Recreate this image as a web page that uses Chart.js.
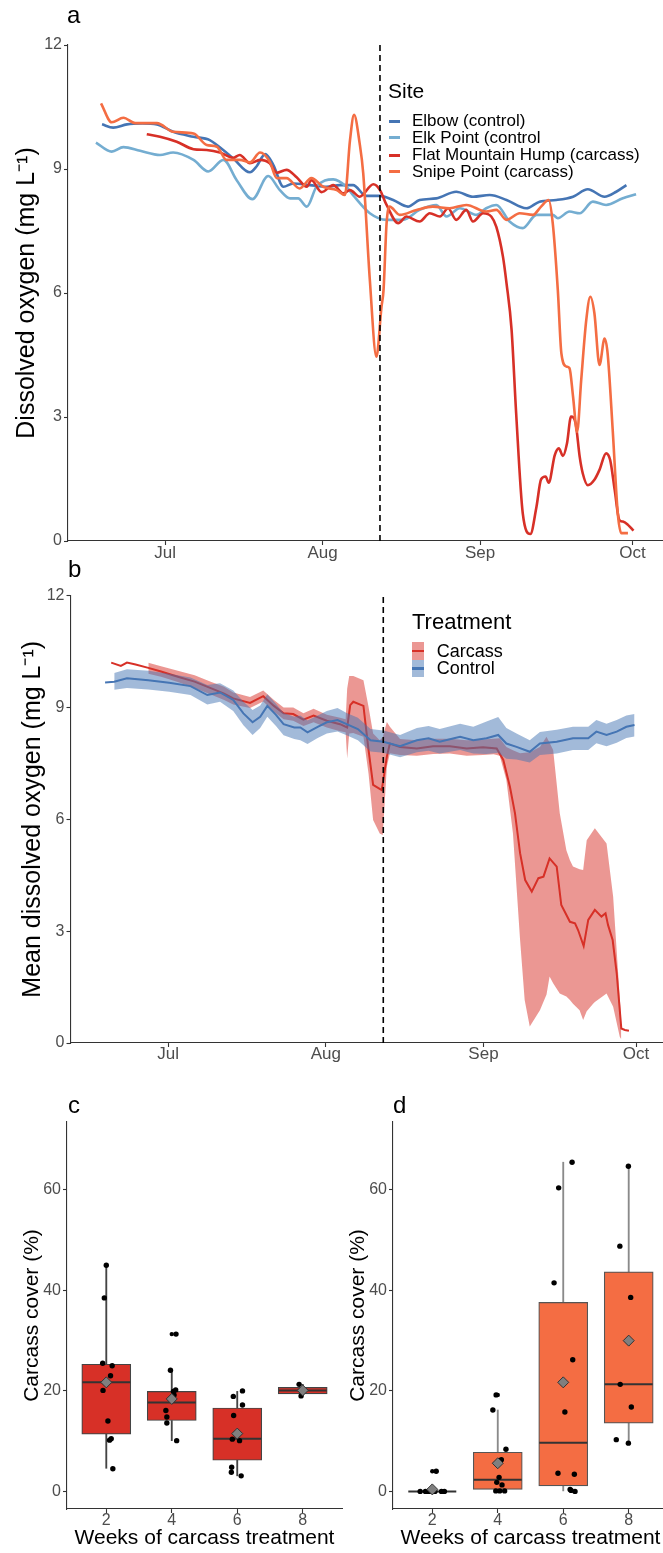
<!DOCTYPE html>
<html><head><meta charset="utf-8">
<script src="https://cdn.jsdelivr.net/npm/chart.js@4.4.1/dist/chart.umd.min.js"></script>
<style>
html,body{margin:0;padding:0;background:#fff;overflow:hidden;width:663px;height:1553px;}
body{position:relative;font-family:'Liberation Sans',Arial,Helvetica,sans-serif;}
.cv{position:absolute;}
.t{position:absolute;white-space:nowrap;color:#000;}
.k{position:absolute;}
</style></head><body>
<canvas id="ca" class="cv" width="663" height="570" style="left:0;top:0"></canvas>
<canvas id="cb" class="cv" width="663" height="510" style="left:0;top:560px"></canvas>
<canvas id="cc" class="cv" width="345" height="473" style="left:0;top:1080px"></canvas>
<canvas id="cd" class="cv" width="345" height="473" style="left:326px;top:1080px"></canvas>

<div class="t" style="left:67px;top:3px;font-size:24px;line-height:24px">a</div>
<div class="t" style="left:68px;top:557px;font-size:24px;line-height:24px">b</div>
<div class="t" style="left:68px;top:1093px;font-size:24px;line-height:24px">c</div>
<div class="t" style="left:393px;top:1093px;font-size:24px;line-height:24px">d</div>

<div id="legA"></div>
<div id="legB"></div>

<script>
// ---------- shared axis data ----------
const tickDays = [0, 31, 62, 92];
const tickMonths = ['Jul', 'Aug', 'Sep', 'Oct'];
const doTicks = [0, 3, 6, 9, 12];
const carcassStartDay = [42.3];

// ---------- panel a : dissolved oxygen by site (days from 1 July) ----------
const siteNames = ['Elbow (control)', 'Elk Point (control', 'Flat Mountain Hump (carcass)', 'Snipe Point (carcass)'];
const siteColors = ['#4575B4', '#74ADD1', '#D73027', '#F46D43'];

const elbowDays = [-12.4,-10.2,-7.5,-4.5,-1.6,1.6,5.6,8.8,10.2,13.4,16.7,18.0,19.7,21.3,23.3,25.2,28.5,31.8,34.4,37.0,39.6,42.3,44.9,47.8,50.1,53.4,57.3,60.6,63.9,67.2,71.1,73.7,77.0,80.3,83.2,86.5,88.8,90.8];
const elbowDO = [10.08,10.00,10.08,10.10,10.08,9.90,9.78,9.70,9.58,9.26,8.92,9.06,9.36,9.10,8.57,8.65,8.61,8.57,8.61,8.61,8.35,8.35,8.25,8.09,8.25,8.29,8.45,8.33,8.37,8.25,8.05,8.21,8.25,8.33,8.51,8.33,8.45,8.61];

const elkDays = [-13.6,-10.5,-8.2,-4.9,-1.0,1.6,5.6,8.5,11.5,14.1,17.2,20.3,22.6,24.6,26.2,27.9,29.8,33.1,35.7,37.0,40.3,43.6,46.8,50.1,53.4,55.4,58.0,61.3,63.2,65.2,67.8,70.4,73.1,76.3,77.3,79.6,81.6,84.2,86.8,90.1,92.7];
const elkDO = [9.64,9.42,9.53,9.44,9.34,9.40,9.22,8.94,9.22,8.73,8.27,8.83,8.49,8.29,8.29,8.09,8.57,8.75,8.57,8.37,7.93,7.77,7.77,8.01,8.13,7.85,8.05,7.89,8.05,8.13,7.73,7.57,7.89,7.89,7.81,7.97,7.93,8.21,8.13,8.29,8.39];

const fmhDays = [-3.6,-1.0,2.3,5.6,8.2,10.8,13.4,14.7,16.7,18.7,20.6,22.0,23.9,25.9,27.9,28.8,30.8,33.1,35.1,36.4,38.3,41.0,42.3,43.6,45.9,47.5,50.1,52.1,54.1,55.7,57.3,59.3,60.6,62.6,64.2,65.2,66.5,67.2,68.2,69.1,70.4,71.9,73.1,74.0,74.9,75.5,76.7,77.5,78.3,79.1,79.9,80.8,81.6,82.2,83.2,84.5,85.5,86.8,87.6,88.5,89.4,90.1,91.1,92.2];
const fmhDO = [9.84,9.78,9.66,9.48,9.46,9.40,9.27,9.34,9.14,9.22,9.14,8.91,8.98,8.80,8.57,8.73,8.44,8.61,8.41,8.49,8.33,8.63,8.49,8.13,7.69,7.85,7.73,7.93,7.85,8.05,7.77,8.01,7.73,7.93,7.85,7.60,6.88,6.24,5.11,3.09,0.67,0.17,0.83,1.49,1.56,1.41,2.08,2.24,2.06,2.36,3.01,2.85,2.04,1.64,1.35,1.48,1.72,2.12,1.96,1.23,0.51,0.47,0.39,0.25];

const snipeDays = [-12.6,-10.5,-8.2,-5.9,-1.6,1.6,5.6,8.2,10.2,12.1,14.7,16.7,18.7,20.6,22.0,23.9,26.5,28.8,31.1,33.8,35.4,36.4,37.2,38.3,39.0,40.3,41.6,42.6,43.0,43.6,44.2,46.2,49.5,52.7,56.0,59.3,63.2,65.2,67.2,69.8,72.4,74.0,75.5,76.3,77.3,78.0,79.0,79.6,80.3,81.1,81.9,82.9,83.7,84.5,85.5,86.5,87.1,88.1,89.1,89.8,91.1];
const snipeDO = [10.59,10.13,10.24,10.11,10.11,9.90,9.86,9.58,9.54,9.22,9.22,9.16,9.40,9.18,8.78,8.78,8.53,8.78,8.57,8.49,8.37,9.70,10.31,9.62,8.90,6.32,4.46,5.67,6.07,7.69,8.09,7.89,8.01,8.09,8.05,8.13,7.97,8.01,7.77,7.93,7.89,8.09,8.25,7.69,6.07,4.54,4.22,4.18,3.49,2.64,3.89,5.35,5.91,5.51,4.26,4.90,4.54,2.69,0.67,0.19,0.19];

// ---------- panel b : treatment means with ribbons ----------
const treatNames = ['Carcass', 'Control'];
const treatColors = ['#D73027', '#4575B4'];
const treatFills = ['rgba(215,48,39,0.5)', 'rgba(69,117,180,0.5)'];

const controlDays = [-12.4,-10.6,-8.1,-3.9,0.2,4.4,7.7,10.2,12.8,14.8,16.6,18.1,19.5,21.2,22.7,24.8,26.0,27.4,29.4,31.2,33.3,35.1,37.3,39.8,42.3,45.6,48.9,51.2,53.4,57.4,60.0,62.6,64.9,66.5,68.5,71.1,73.1,76.4,79.6,82.6,84.2,86.2,88.2,90.1,91.7];
const controlMean = [9.67,9.69,9.78,9.73,9.66,9.57,9.33,9.40,9.20,8.84,8.60,8.75,9.04,8.80,8.55,8.46,8.46,8.33,8.48,8.60,8.66,8.55,8.42,8.12,8.08,7.96,8.12,8.17,8.08,8.21,8.12,8.17,8.26,8.03,7.94,7.81,8.03,8.08,8.17,8.17,8.35,8.26,8.35,8.48,8.53];
const controlBandDays = [-10.6,-8.1,-3.9,0.2,4.4,7.7,10.2,12.8,14.8,16.6,18.1,19.5,21.2,22.7,24.8,26.0,27.4,29.4,31.2,33.3,35.1,37.3,39.8,42.3,45.6,48.9,51.2,53.4,57.4,60.0,62.6,64.9,66.5,68.5,71.1,73.1,76.4,79.6,82.6,84.2,86.2,88.2,90.1,91.7];
const controlLower = [9.47,9.52,9.48,9.42,9.33,9.08,9.15,8.90,8.52,8.26,8.45,8.75,8.50,8.25,8.15,8.12,8.02,8.18,8.30,8.35,8.25,8.12,7.82,7.78,7.66,7.80,7.84,7.76,7.86,7.76,7.75,7.78,7.62,7.60,7.52,7.72,7.76,7.86,7.86,8.04,7.96,8.05,8.18,8.22];
const controlUpper = [9.92,10.02,9.98,9.90,9.80,9.60,9.65,9.45,9.15,8.93,9.05,9.35,9.10,8.85,8.75,8.78,8.65,8.78,8.90,8.98,8.85,8.72,8.42,8.38,8.26,8.45,8.50,8.42,8.56,8.48,8.62,8.74,8.45,8.30,8.12,8.34,8.40,8.48,8.48,8.66,8.56,8.66,8.78,8.82];

const carcassDays = [-11.2,-9.3,-8.1,-6.4,-3.9,-1.4,1.9,5.2,8.5,11.0,12.8,16.1,18.7,20.8,22.7,24.6,26.6,28.6,31.2,33.8,35.2,35.8,36.4,38.4,39.4,40.3,42.0,43.0,43.6,45.6,48.9,52.1,55.4,58.7,61.9,64.6,65.9,67.2,68.2,69.2,70.2,71.5,72.8,73.8,75.0,76.4,77.3,79.0,80.0,80.6,81.7,82.6,83.9,85.2,86.0,86.5,87.4,88.2,89.1,89.8,90.6];
const carcassMean = [10.20,10.11,10.20,10.15,10.06,9.96,9.82,9.69,9.51,9.37,9.24,9.12,9.30,9.04,8.84,8.82,8.67,8.78,8.64,8.55,8.46,9.06,9.15,9.04,7.86,6.92,6.78,7.68,8.03,7.94,7.90,7.96,7.96,7.90,7.93,7.90,7.59,6.87,6.16,5.09,4.37,4.06,4.42,4.46,4.95,4.73,3.70,3.25,3.21,3.03,2.60,3.30,3.57,3.39,3.48,3.16,2.76,1.87,0.39,0.35,0.33];
const carcassBandDays = [-3.9,-1.4,1.9,5.2,8.5,11.0,12.8,16.1,18.7,20.8,22.7,24.6,26.6,28.6,31.2,33.8,34.9,35.2,35.6,36.4,38.4,39.4,40.3,41.6,42.2,43.0,43.6,45.6,48.9,52.1,55.4,58.7,61.9,64.0,65.2,66.5,67.8,69.2,70.1,71.1,73.1,74.4,75.0,75.7,77.0,78.3,79.0,79.6,80.9,81.6,82.3,83.6,83.9,86.2,87.5,88.8,89.1];
const carcassLower = [9.90,9.82,9.68,9.52,9.34,9.20,9.08,8.98,9.16,8.88,8.68,8.64,8.50,8.60,8.46,8.36,8.33,7.63,8.30,8.31,8.21,7.23,5.98,5.62,5.58,7.41,7.77,7.72,7.70,7.75,7.76,7.70,7.72,7.74,7.70,7.05,5.62,2.76,1.15,0.44,0.88,1.30,1.78,1.60,1.33,1.25,1.15,1.05,0.88,0.62,0.85,1.06,1.10,1.33,0.97,0.17,0.10];
const carcassUpper = [10.20,10.10,9.98,9.86,9.68,9.55,9.40,9.28,9.45,9.20,9.00,9.00,8.84,8.96,8.80,8.72,8.68,9.50,9.84,9.84,9.73,9.02,8.30,8.12,8.20,8.61,8.48,8.15,8.12,8.16,8.16,8.12,8.14,8.16,8.17,7.94,7.85,7.77,7.78,7.80,7.94,8.21,8.05,7.86,6.16,5.17,4.90,4.73,4.66,4.64,5.44,5.70,5.76,5.35,3.92,1.20,0.60];

// ---------- panels c & d : carcass cover boxplots ----------
const weeks = [2, 4, 6, 8];
const weekLabels = ['2', '4', '6', '8'];
const coverTicks = [0, 20, 40, 60];

// panel c
const cLow = [4.6, 10.1, 3.1, 19.0];
const cQ1 = [11.4, 14.1, 6.2, 19.4];
const cMedian = [21.7, 17.7, 10.5, 20.1];
const cQ3 = [25.3, 19.9, 16.6, 20.7];
const cHigh = [44.9, 24.1, 19.9, 21.3];
const cMean = [21.7, 18.4, 11.5, 20.1];
const cPointWeek = [2.00,1.94,1.89,2.18,2.13,1.90,2.05,2.15,2.10,2.20, 4.13,3.96,4.12,4.05,4.07,3.82,3.85,3.85,4.15, 6.16,5.88,6.16,5.89,5.85,6.07,5.83,5.82,6.12, 7.89,7.95,8.02];
const cPointCover = [45.0,38.5,25.5,25.0,23.0,20.1,14.0,10.5,10.2,4.5, 31.3,24.1,20.2,19.9,19.2,16.1,14.8,13.6,10.1, 20.0,18.9,17.2,15.1,10.4,10.1,4.8,3.8,3.1, 21.3,19.0,20.1];
const cOutlierWeek = [4];
const cOutlierCover = [31.3];

// panel d
const dLow = [0, 0, 0, 9.6];
const dQ1 = [0, 0.4, 1.1, 13.6];
const dMedian = [0, 2.3, 9.7, 21.3];
const dQ3 = [0, 7.8, 37.6, 43.7];
const dHigh = [0, 16.2, 65.5, 64.7];
const dMean = [0.4, 5.6, 21.7, 30.0];
const dPointWeek = [1.63,1.79,2.12,2.28,2.37,1.86,1.92,1.97,2.03,2.08, 3.95,3.85,4.25,4.11,4.04,3.97,4.13,3.94,4.06,4.21, 6.27,5.86,5.72,6.29,6.05,5.84,6.34,6.21,6.36,6.24, 7.99,7.73,8.06,7.74,8.08,7.62,7.99];
const dPointCover = [0,0,4.0,0,0,0,0,0,0,0, 19.2,16.2,8.4,6.3,2.8,1.8,1.3,0.1,0.1,0.1, 65.5,60.4,41.5,26.2,15.8,3.6,3.4,0.4,0.0,0.2, 64.7,48.8,38.6,21.3,16.8,10.3,9.6];
const dOutlierWeek = [2, 4];
const dOutlierCover = [4.0, 19.2];

// ---------- helpers ----------
const FONT = "'Liberation Sans', Arial, Helvetica, sans-serif";
Chart.defaults.font.family = FONT;
const TICK_COL = '#4D4D4D', AXIS_COL = '#333333';

function pts(xs, ys) { return xs.map((x, i) => ({ x: x, y: ys[i] })); }

function axisCommon() {
  return {
    grid: { display: true, offset: false, drawOnChartArea: false, drawTicks: true, tickLength: 4, color: AXIS_COL, tickColor: AXIS_COL, tickWidth: 1.1 },
    border: { display: true, color: AXIS_COL, width: 1.1 }
  };
}
function xScale(min, max, h, tv, tl, pad, size, title) {
  const s = Object.assign(axisCommon(), {
    type: 'linear', min: min, max: max, offset: false,
    afterFit: sc => { sc.height = h; },
    afterBuildTicks: sc => { sc.ticks = tv.map(v => ({ value: v })); },
    ticks: { autoSkip: false, maxRotation: 0, color: TICK_COL, font: { size: size, lineHeight: 1 }, padding: pad,
             callback: (v, i) => tl[i] }
  });
  if (title) s.title = title;
  return s;
}
function yScale(min, max, w, tv, title, size, tpad) {
  return Object.assign(axisCommon(), {
    type: 'linear', min: min, max: max,
    afterFit: sc => { sc.width = w; },
    afterBuildTicks: sc => { sc.ticks = tv.map(v => ({ value: v })); },
    ticks: { color: TICK_COL, font: { size: 16 }, padding: 2, callback: v => String(v) },
    title: { display: true, text: title, color: '#000', font: { size: size, lineHeight: 1.2 }, padding: { top: tpad, bottom: 0 } }
  });
}
function vline(day, order) {
  return { data: [{ x: day, y: 0 }, { x: day, y: 12 }], showLine: true, borderColor: '#000', borderWidth: 1.6,
           borderDash: [6, 4], pointRadius: 0, fill: false, order: order };
}
const baseOpts = { responsive: false, animation: false, events: [],
  plugins: { legend: { display: false }, tooltip: { enabled: false }, title: { display: false } } };

// ---------- panel a ----------
function siteLine(xs, ys, col, order) {
  return { data: pts(xs, ys), showLine: true, borderColor: col, borderWidth: 2.6, pointRadius: 0,
           cubicInterpolationMode: 'monotone', fill: false, order: order };
}
new Chart(document.getElementById('ca'), {
  type: 'scatter',
  data: { datasets: [
    vline(carcassStartDay[0], 0),
    siteLine(snipeDays, snipeDO, siteColors[3], 1),
    siteLine(fmhDays, fmhDO, siteColors[2], 2),
    siteLine(elkDays, elkDO, siteColors[1], 3),
    siteLine(elbowDays, elbowDO, siteColors[0], 4)
  ]},
  options: Object.assign({}, baseOpts, {
    layout: { autoPadding: false, padding: { top: 45, right: 0, left: 0, bottom: 0 } },
    scales: {
      x: xScale(-19.1, 98, 29, tickDays, tickMonths, 0, 17),
      y: yScale(0, 12, 68, doTicks, 'Dissolved oxygen (mg L\u207B\u00B9)', 25, 12)
    }
  })
});

// ---------- panel b ----------
function meanLine(xs, ys, col, order) {
  return { data: pts(xs, ys), showLine: true, borderColor: col, borderWidth: 2, pointRadius: 0, tension: 0, fill: false, order: order };
}
function bandEdge(xs, ys, fillCol, order) {
  return { data: pts(xs, ys), showLine: true, borderColor: 'rgba(0,0,0,0)', borderWidth: 0, pointRadius: 0, tension: 0,
           backgroundColor: fillCol, fill: fillCol ? '+1' : false, order: order };
}
new Chart(document.getElementById('cb'), {
  type: 'scatter',
  data: { datasets: [
    vline(carcassStartDay[0], 0),
    meanLine(controlDays, controlMean, treatColors[1], 1),
    bandEdge(controlBandDays, controlUpper, treatFills[1], 2),
    bandEdge(controlBandDays, controlLower, null, 3),
    meanLine(carcassDays, carcassMean, treatColors[0], 4),
    bandEdge(carcassBandDays, carcassUpper, treatFills[0], 5),
    bandEdge(carcassBandDays, carcassLower, null, 6)
  ]},
  options: Object.assign({}, baseOpts, {
    layout: { autoPadding: false, padding: { top: 35.5, right: 0, left: 0, bottom: 0 } },
    scales: {
      x: xScale(-19.2, 97.3, 27, tickDays, tickMonths, -1, 17),
      y: yScale(0, 12, 70.5, doTicks, 'Mean dissolved oxygen (mg L\u207B\u00B9)', 25, 18)
    }
  })
});

// ---------- panels c & d ----------
function boxChart(id, st) {
  const datasets = [
    { type: 'scatter', data: pts(weeks, st.mean), pointStyle: 'rectRot', pointRadius: 5.5,
      pointBackgroundColor: '#7F7F7F', pointBorderColor: '#333333', pointBorderWidth: 1, order: 0 },
    { type: 'scatter', data: pts(st.pw, st.pc), pointStyle: 'circle', pointRadius: 2.7,
      pointBackgroundColor: '#000', pointBorderColor: '#000', pointBorderWidth: 0, order: 1 },
    { type: 'scatter', data: pts(st.ow, st.oc), pointStyle: 'circle', pointRadius: 2.2,
      pointBackgroundColor: '#000', pointBorderColor: '#000', pointBorderWidth: 0, order: 2 },
    { type: 'scatter', data: pts(weeks, st.med), pointStyle: 'line', pointRadius: 24,
      pointBorderColor: '#333333', pointBorderWidth: 2, order: 3 },
    { type: 'bar', data: weeks.map((w, i) => ({ x: w, y: [st.q1[i], st.q3[i]] })), backgroundColor: st.fill,
      borderColor: st.border, borderWidth: 1.2, borderSkipped: false, barThickness: 49, grouped: false, order: 4 },
    { type: 'bar', data: weeks.map((w, i) => ({ x: w, y: [st.lo[i], st.q1[i]] })), backgroundColor: st.whisker,
      borderWidth: 0, barThickness: 1.2, grouped: false, order: 5 },
    { type: 'bar', data: weeks.map((w, i) => ({ x: w, y: [st.q3[i], st.hi[i]] })), backgroundColor: st.whisker,
      borderWidth: 0, barThickness: 1.2, grouped: false, order: 5 }
  ];
  new Chart(document.getElementById(id), {
    type: 'bar',
    data: { datasets: datasets },
    options: Object.assign({}, baseOpts, {
      layout: { autoPadding: false, padding: { top: 42, right: 3, left: 0, bottom: 0 } },
      scales: {
        x: xScale(0.8, 9.2, 44, weeks, weekLabels, 0, 16,
          { display: true, text: 'Weeks of carcass treatment', color: '#000', font: { size: 21, lineHeight: 1.2 }, padding: { top: 0, bottom: 2.4 } }),
        y: yScale(-3.5, 73.5, 67, coverTicks, 'Carcass cover (%)', 21, 20)
      }
    })
  });
}
boxChart('cc', { lo: cLow, q1: cQ1, med: cMedian, q3: cQ3, hi: cHigh, mean: cMean,
  pw: cPointWeek, pc: cPointCover, ow: cOutlierWeek, oc: cOutlierCover,
  fill: '#D73027', border: '#444444', whisker: '#444444' });
boxChart('cd', { lo: dLow, q1: dQ1, med: dMedian, q3: dQ3, hi: dHigh, mean: dMean,
  pw: dPointWeek, pc: dPointCover, ow: dOutlierWeek, oc: dOutlierCover,
  fill: '#F46D43', border: '#555555', whisker: '#8A8A8A' });

// ---------- legends (HTML text) ----------
(function () {
  const a = document.getElementById('legA');
  let h = '<div class="t" style="left:388px;top:79px;font-size:21px;line-height:24px">Site</div>';
  const centers = [121, 137.7, 155, 171.9];
  siteNames.forEach((n, i) => {
    h += '<div class="k" style="left:389px;top:' + (centers[i] - 1.5) + 'px;width:11px;height:3px;background:' + siteColors[i] + '"></div>';
    h += '<div class="t" style="left:412px;top:' + (centers[i] - 9) + 'px;font-size:17px;line-height:18px">' + n + '</div>';
  });
  a.innerHTML = h;
  const b = document.getElementById('legB');
  let g = '<div class="t" style="left:412px;top:608.7px;font-size:22px;line-height:26px">Treatment</div>';
  const tops = [642, 659.5];
  treatNames.forEach((n, i) => {
    g += '<div class="k" style="left:412px;top:' + tops[i] + 'px;width:12px;height:17.5px;background:' + treatFills[i] + '"></div>';
    g += '<div class="k" style="left:412px;top:' + (tops[i] + 7.5) + 'px;width:12px;height:2.5px;background:' + treatColors[i] + '"></div>';
    g += '<div class="t" style="left:436.7px;top:' + (tops[i] + 8.7 - 10) + 'px;font-size:18px;line-height:20px">' + n + '</div>';
  });
  b.innerHTML = g;
})();
</script>
</body></html>
